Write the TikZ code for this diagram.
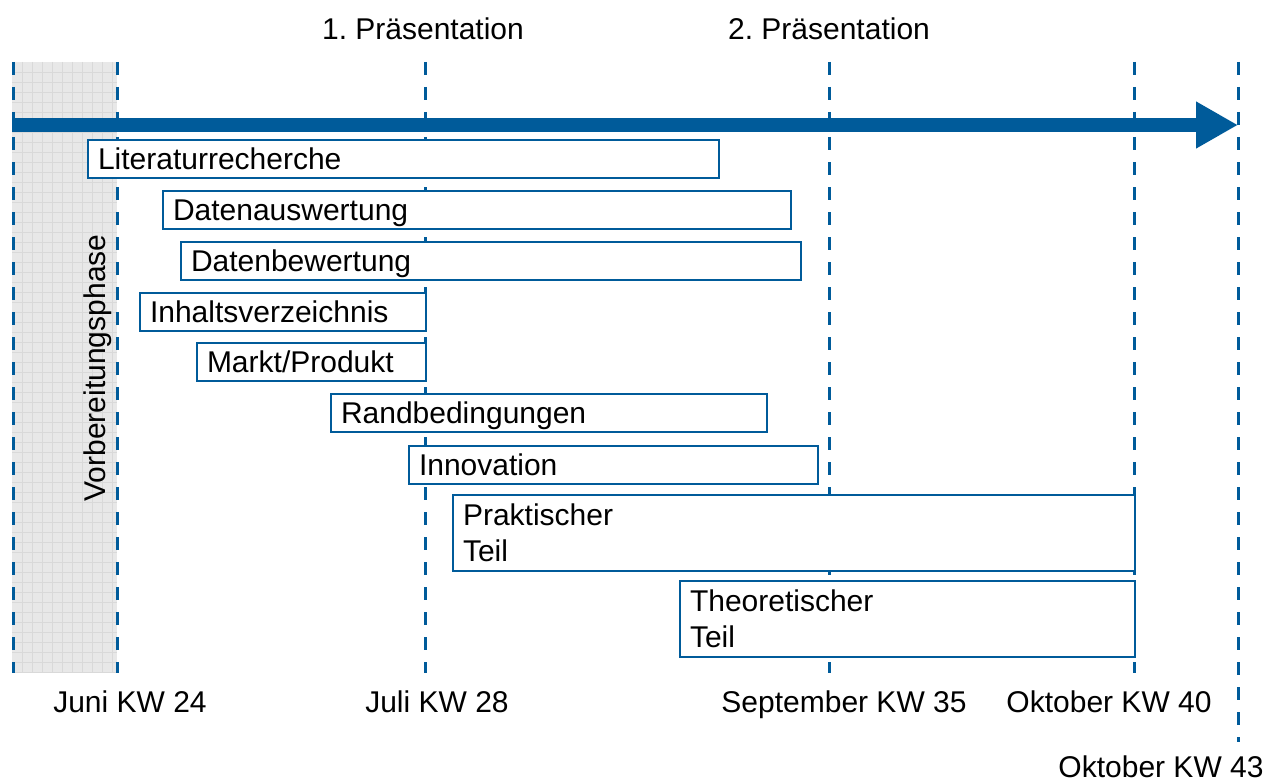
\documentclass[tikz,border=0pt]{standalone}
\usepackage{fontspec}
\setmainfont{Liberation Sans}
\usepackage{tikz}
\usetikzlibrary{arrows.meta, positioning}
\frenchspacing

\definecolor{planblue}{RGB}{0,91,154}

\tikzset{
    task/.style={draw=planblue, line width=2pt, fill=white, anchor=north west, align=left, inner xsep=10pt, inner ysep=0pt},
    onerow/.style={task, minimum height=38pt, text height=21.5pt, text depth=1pt},
    tworow/.style={task, minimum height=76pt},
    kwline/.style={planblue, line width=3pt, dash pattern=on 13pt off 12pt},
    gridline/.style={gray!30, line width=0.8pt}
}

\begin{document}
\begin{tikzpicture}[x=1pt, y=-1pt, every node/.style={font=\fontsize{30}{36}\selectfont}]
    \useasboundingbox (0,0) rectangle (1279,781);

    % Draw preparation phase
    \fill[gray!18] (12,62) rectangle (117,673);
    \foreach \gx in {22,32,...,112}
        \draw[gridline] (\gx,62) -- (\gx,673);
    \foreach \gy in {72,82,...,672}
        \draw[gridline] (12,\gy) -- (117,\gy);
    \node[rotate=90, anchor=base] (vorb) at (105,368) {Vorbereitungsphase};

    % Calendar weeks
    \foreach \kx in {13,117,425,829,1134}
        \draw[kwline] (\kx,62) -- (\kx,673);
    \draw[kwline] (1238,62) -- (1238,742);

    % Time axis
    \draw[planblue, line width=14pt, -{Triangle[length=42pt, width=44pt]}] (12,125) -- (1238,125);

    % Work packages
    \node[onerow, text width=611pt] (lit) at (87,139) {Literaturrecherche};
    \node[onerow, text width=608pt] (daus) at (162,190) {Datenauswertung};
    \node[onerow, text width=600pt] (dbew) at (180,241) {Datenbewertung};
    \node[onerow, text width=266pt] (inh) at (139,292) {Inhaltsverzeichnis};
    \node[onerow, text width=209pt] (markt) at (196,342) {Markt/Produkt};
    \node[onerow, text width=416pt] (rand) at (330,393) {Randbedingungen};
    \node[onerow, text width=389pt] (inno) at (408,445) {Innovation};
    \node[tworow, text width=662pt] (prak) at (452,494) {Praktischer\\Teil};
    \node[tworow, text width=435pt] (theo) at (679,580) {Theoretischer\\Teil};

    % Milestones
    \node[anchor=base] (praes1) at (423,40) {1. Präsentation};
    \node[anchor=base] (praes2) at (829,40) {2. Präsentation};

    % Dates
    \node[anchor=base] (kw24) at (130,712) {Juni KW 24};
    \node[anchor=base] (kw28) at (437,712) {Juli KW 28};
    \node[anchor=base] (kw35) at (844,712) {September KW 35};
    \node[anchor=base] (kw40) at (1109,712) {Oktober KW 40};
    \node[anchor=base] (kw43) at (1161,777) {Oktober KW 43};
\end{tikzpicture}
\end{document}
